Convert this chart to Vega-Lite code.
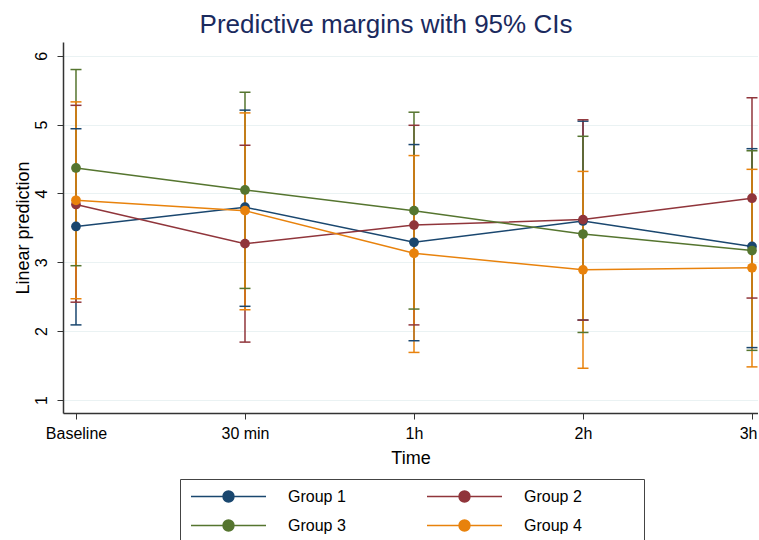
{
  "$schema": "https://vega.github.io/schema/vega-lite/v6.json",
  "width": 695,
  "height": 371,
  "padding": {"left": 14, "top": 12, "right": 0, "bottom": 0},
  "background": "white",
  "title": {
    "text": "Predictive margins with 95% CIs",
    "frame": "bounds",
    "anchor": "middle",
    "font": "Liberation Sans",
    "fontSize": 26,
    "fontWeight": "normal",
    "color": "#1a2a5e",
    "offset": 4
  },
  "data": {
    "values": [
      {"time": "Baseline", "group": "Group 1", "est": 3.52, "lo": 2.09, "hi": 4.94},
      {"time": "30 min", "group": "Group 1", "est": 3.80, "lo": 2.36, "hi": 5.21},
      {"time": "1h", "group": "Group 1", "est": 3.29, "lo": 1.86, "hi": 4.71},
      {"time": "2h", "group": "Group 1", "est": 3.60, "lo": 2.16, "hi": 5.05},
      {"time": "3h", "group": "Group 1", "est": 3.23, "lo": 1.76, "hi": 4.65},
      {"time": "Baseline", "group": "Group 2", "est": 3.84, "lo": 2.42, "hi": 5.28},
      {"time": "30 min", "group": "Group 2", "est": 3.27, "lo": 1.84, "hi": 4.70},
      {"time": "1h", "group": "Group 2", "est": 3.54, "lo": 2.09, "hi": 4.99},
      {"time": "2h", "group": "Group 2", "est": 3.62, "lo": 2.16, "hi": 5.07},
      {"time": "3h", "group": "Group 2", "est": 3.93, "lo": 2.48, "hi": 5.39},
      {"time": "Baseline", "group": "Group 3", "est": 4.37, "lo": 2.95, "hi": 5.80},
      {"time": "30 min", "group": "Group 3", "est": 4.05, "lo": 2.62, "hi": 5.47},
      {"time": "1h", "group": "Group 3", "est": 3.75, "lo": 2.32, "hi": 5.18},
      {"time": "2h", "group": "Group 3", "est": 3.41, "lo": 1.98, "hi": 4.83},
      {"time": "3h", "group": "Group 3", "est": 3.17, "lo": 1.72, "hi": 4.62},
      {"time": "Baseline", "group": "Group 4", "est": 3.90, "lo": 2.47, "hi": 5.33},
      {"time": "30 min", "group": "Group 4", "est": 3.75, "lo": 2.31, "hi": 5.17},
      {"time": "1h", "group": "Group 4", "est": 3.13, "lo": 1.69, "hi": 4.55},
      {"time": "2h", "group": "Group 4", "est": 2.89, "lo": 1.46, "hi": 4.32},
      {"time": "3h", "group": "Group 4", "est": 2.92, "lo": 1.48, "hi": 4.35}
    ]
  },
  "encoding": {
    "x": {
      "field": "time",
      "type": "ordinal",
      "sort": ["Baseline", "30 min", "1h", "2h", "3h"],
      "scale": {"type": "point", "padding": 0.0562, "align": 0.684},
      "axis": {
        "title": "Time",
        "titleFont": "Liberation Sans",
        "titleFontSize": 18,
        "titleFontWeight": "normal",
        "titleColor": "#000",
        "titlePadding": 8,
        "labelFont": "Liberation Sans",
        "labelFontSize": 16,
        "labelColor": "#000",
        "labelAngle": 0,
        "labelPadding": 6,
        "labelFlush": 7,
        "labelFlushOffset": 5,
        "tickSize": 6,
        "tickColor": "#333",
        "tickWidth": 1,
        "domainColor": "#333",
        "domainWidth": 1.5,
        "grid": false
      }
    },
    "color": {
      "field": "group",
      "type": "nominal",
      "scale": {
        "domain": ["Group 1", "Group 2", "Group 3", "Group 4"],
        "range": ["#1a476f", "#90353b", "#55752f", "#e8820c"]
      },
      "legend": {
        "title": null,
        "orient": "none",
        "legendX": 117,
        "legendY": 437,
        "columns": 2,
        "direction": "horizontal",
        "strokeColor": "#444",
        "padding": 9,
        "symbolType": "M-5,0L5,0M-0.73,0A0.73,0.73,0,1,0,0.73,0A0.73,0.73,0,1,0,-0.73,0ZM22.3,0",
        "symbolSize": 225,
        "symbolOffset": 31,
        "symbolStrokeWidth": 0.2,
        "labelFont": "Liberation Sans",
        "labelFontSize": 16,
        "labelColor": "#000",
        "labelOffset": 51,
        "columnPadding": 25,
        "rowPadding": 12,
        "encode": {
          "symbols": {
            "update": {
              "fill": {"scale": "color", "field": "value"},
              "stroke": {"scale": "color", "field": "value"},
              "strokeWidth": {"value": 1.5},
              "opacity": {"value": 1}
            }
          }
        }
      }
    }
  },
  "layer": [
    {
      "mark": {"type": "rule", "strokeWidth": 1.5},
      "encoding": {
        "y": {"field": "lo", "type": "quantitative"},
        "y2": {"field": "hi"}
      }
    },
    {
      "mark": {"type": "tick", "size": 11, "thickness": 1.5, "opacity": 1},
      "encoding": {"y": {"field": "lo", "type": "quantitative"}}
    },
    {
      "mark": {"type": "tick", "size": 11, "thickness": 1.5, "opacity": 1},
      "encoding": {"y": {"field": "hi", "type": "quantitative"}}
    },
    {
      "mark": {"type": "line", "strokeWidth": 1.5},
      "encoding": {"y": {"field": "est", "type": "quantitative"}}
    },
    {
      "mark": {"type": "point", "filled": true, "size": 95, "opacity": 1, "shape": "circle"},
      "encoding": {
        "y": {
          "field": "est",
          "type": "quantitative",
          "scale": {"domain": [0.81, 6.2], "nice": false, "zero": false},
          "axis": {
            "title": "Linear prediction",
            "titleFont": "Liberation Sans",
            "titleFontSize": 18,
            "titleFontWeight": "normal",
            "titleColor": "#000",
            "titlePadding": 1,
            "values": [1, 2, 3, 4, 5, 6],
            "format": "d",
            "labelFont": "Liberation Sans",
            "labelFontSize": 16,
            "labelColor": "#000",
            "labelAngle": -90,
            "labelAlign": "center",
            "labelBaseline": "bottom",
            "labelPadding": 8,
            "tickSize": 6,
            "tickColor": "#333",
            "domainColor": "#333",
            "domainWidth": 1.5,
            "grid": true,
            "gridColor": "#eaf2f3",
            "gridWidth": 1.2
          }
        }
      }
    }
  ],
  "resolve": {"scale": {"y": "shared"}},
  "config": {
    "view": {"stroke": null},
    "axis": {"labelFont": "Liberation Sans"}
  }
}
